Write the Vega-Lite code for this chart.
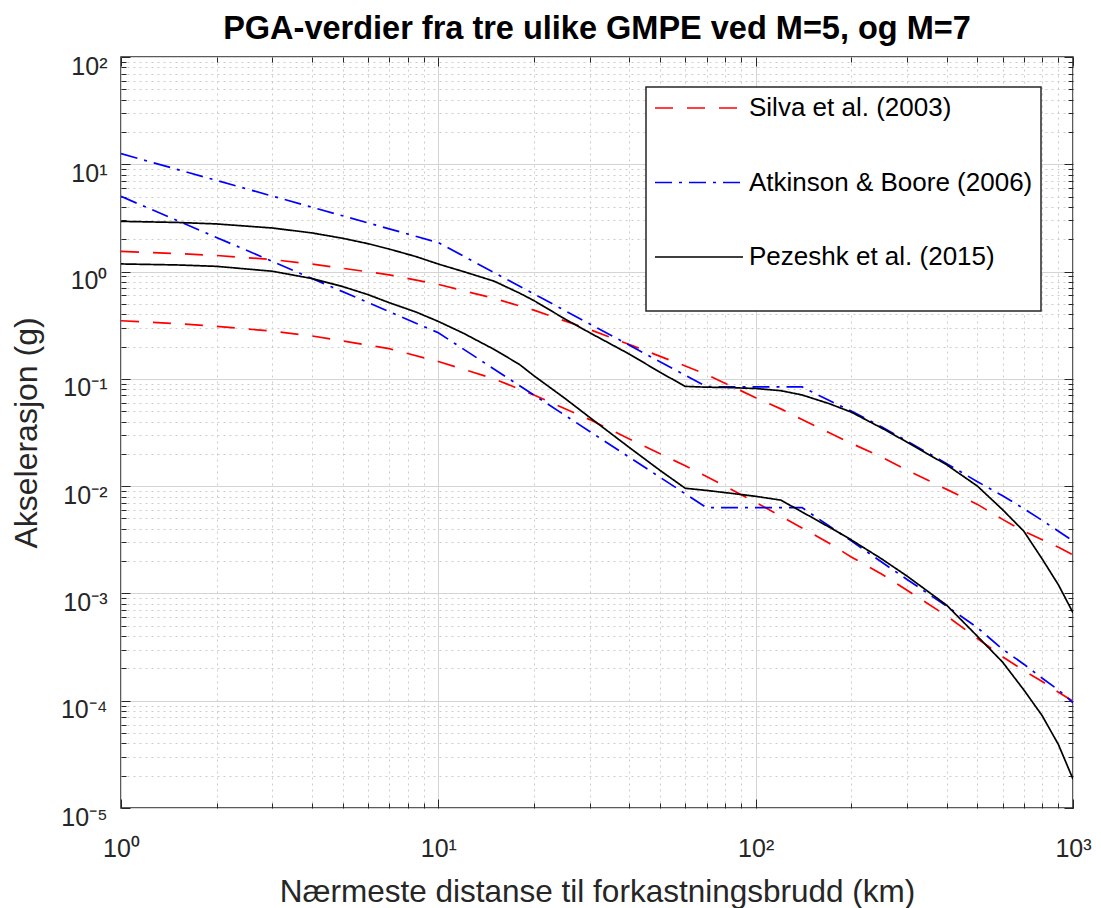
{
  "$schema": "https://vega.github.io/schema/vega-lite/v6.json",
  "autosize": "none",
  "width": 952,
  "height": 751,
  "padding": {"left": 121, "top": 57, "right": 28, "bottom": 100},
  "background": "white",
  "title": {
    "text": "PGA-verdier fra tre ulike GMPE ved M=5, og M=7",
    "font": "Liberation Sans", "fontSize": 32.5, "fontWeight": "bold", "color": "black",
    "anchor": "middle", "frame": "group", "baseline": "alphabetic", "offset": -17
  },
  "config": {
    "view": {"stroke": "#262626", "strokeWidth": 1.5},
    "legend": {
      "orient": "none", "legendX": 525, "legendY": 30,
      "fillColor": "white", "strokeColor": "#262626", "strokeWidth": 1.5,
      "padding": 8, "symbolType": "stroke", "symbolSize": 7744, "symbolStrokeWidth": 1.6,
      "clipHeight": 26, "rowPadding": 48.5,
      "labelFont": "Liberation Sans", "labelFontSize": 26, "labelColor": "black", "labelOffset": 5, "labelLimit": 400,
      "titleOrient": "bottom", "titleFontSize": 24, "titlePadding": 9
    }
  },
  "data": {"values": [
    {"model":"Silva et al. (2003)","M":7,"x":1,"y":1.542},
    {"model":"Silva et al. (2003)","M":7,"x":1.5,"y":1.472},
    {"model":"Silva et al. (2003)","M":7,"x":2,"y":1.413},
    {"model":"Silva et al. (2003)","M":7,"x":3,"y":1.294},
    {"model":"Silva et al. (2003)","M":7,"x":4,"y":1.175},
    {"model":"Silva et al. (2003)","M":7,"x":5,"y":1.072},
    {"model":"Silva et al. (2003)","M":7,"x":7,"y":0.933},
    {"model":"Silva et al. (2003)","M":7,"x":10,"y":0.759},
    {"model":"Silva et al. (2003)","M":7,"x":15,"y":0.562},
    {"model":"Silva et al. (2003)","M":7,"x":20,"y":0.437},
    {"model":"Silva et al. (2003)","M":7,"x":30,"y":0.288},
    {"model":"Silva et al. (2003)","M":7,"x":40,"y":0.209},
    {"model":"Silva et al. (2003)","M":7,"x":50,"y":0.162},
    {"model":"Silva et al. (2003)","M":7,"x":60,"y":0.132},
    {"model":"Silva et al. (2003)","M":7,"x":70,"y":0.110},
    {"model":"Silva et al. (2003)","M":7,"x":80,"y":0.0912},
    {"model":"Silva et al. (2003)","M":7,"x":100,"y":0.0668},
    {"model":"Silva et al. (2003)","M":7,"x":120,"y":0.0525},
    {"model":"Silva et al. (2003)","M":7,"x":140,"y":0.0417},
    {"model":"Silva et al. (2003)","M":7,"x":170,"y":0.0316},
    {"model":"Silva et al. (2003)","M":7,"x":200,"y":0.0251},
    {"model":"Silva et al. (2003)","M":7,"x":250,"y":0.0186},
    {"model":"Silva et al. (2003)","M":7,"x":300,"y":0.0141},
    {"model":"Silva et al. (2003)","M":7,"x":400,"y":0.00933},
    {"model":"Silva et al. (2003)","M":7,"x":500,"y":0.00676},
    {"model":"Silva et al. (2003)","M":7,"x":600,"y":0.0049},
    {"model":"Silva et al. (2003)","M":7,"x":700,"y":0.0038},
    {"model":"Silva et al. (2003)","M":7,"x":800,"y":0.00316},
    {"model":"Silva et al. (2003)","M":7,"x":900,"y":0.00269},
    {"model":"Silva et al. (2003)","M":7,"x":1000,"y":0.00229},
    {"model":"Silva et al. (2003)","M":5,"x":1,"y":0.348},
    {"model":"Silva et al. (2003)","M":5,"x":1.5,"y":0.327},
    {"model":"Silva et al. (2003)","M":5,"x":2,"y":0.309},
    {"model":"Silva et al. (2003)","M":5,"x":3,"y":0.278},
    {"model":"Silva et al. (2003)","M":5,"x":4,"y":0.251},
    {"model":"Silva et al. (2003)","M":5,"x":5,"y":0.226},
    {"model":"Silva et al. (2003)","M":5,"x":7,"y":0.191},
    {"model":"Silva et al. (2003)","M":5,"x":10,"y":0.145},
    {"model":"Silva et al. (2003)","M":5,"x":15,"y":0.1},
    {"model":"Silva et al. (2003)","M":5,"x":20,"y":0.0708},
    {"model":"Silva et al. (2003)","M":5,"x":30,"y":0.0417},
    {"model":"Silva et al. (2003)","M":5,"x":40,"y":0.0275},
    {"model":"Silva et al. (2003)","M":5,"x":50,"y":0.02},
    {"model":"Silva et al. (2003)","M":5,"x":60,"y":0.0155},
    {"model":"Silva et al. (2003)","M":5,"x":70,"y":0.0123},
    {"model":"Silva et al. (2003)","M":5,"x":80,"y":0.01},
    {"model":"Silva et al. (2003)","M":5,"x":100,"y":0.00708},
    {"model":"Silva et al. (2003)","M":5,"x":120,"y":0.00525},
    {"model":"Silva et al. (2003)","M":5,"x":140,"y":0.00407},
    {"model":"Silva et al. (2003)","M":5,"x":170,"y":0.00295},
    {"model":"Silva et al. (2003)","M":5,"x":200,"y":0.00219},
    {"model":"Silva et al. (2003)","M":5,"x":250,"y":0.00151},
    {"model":"Silva et al. (2003)","M":5,"x":300,"y":0.00107},
    {"model":"Silva et al. (2003)","M":5,"x":400,"y":0.000617},
    {"model":"Silva et al. (2003)","M":5,"x":500,"y":0.00038},
    {"model":"Silva et al. (2003)","M":5,"x":600,"y":0.000257},
    {"model":"Silva et al. (2003)","M":5,"x":700,"y":0.000191},
    {"model":"Silva et al. (2003)","M":5,"x":800,"y":0.000151},
    {"model":"Silva et al. (2003)","M":5,"x":900,"y":0.00012},
    {"model":"Silva et al. (2003)","M":5,"x":1000,"y":0.0000989},
    {"model":"Atkinson & Boore (2006)","M":7,"x":1,"y":12.56},
    {"model":"Atkinson & Boore (2006)","M":7,"x":10,"y":1.862},
    {"model":"Atkinson & Boore (2006)","M":7,"x":70,"y":0.0845},
    {"model":"Atkinson & Boore (2006)","M":7,"x":140,"y":0.0841},
    {"model":"Atkinson & Boore (2006)","M":7,"x":170,"y":0.0631},
    {"model":"Atkinson & Boore (2006)","M":7,"x":200,"y":0.0501},
    {"model":"Atkinson & Boore (2006)","M":7,"x":250,"y":0.0355},
    {"model":"Atkinson & Boore (2006)","M":7,"x":300,"y":0.0263},
    {"model":"Atkinson & Boore (2006)","M":7,"x":400,"y":0.0162},
    {"model":"Atkinson & Boore (2006)","M":7,"x":500,"y":0.011},
    {"model":"Atkinson & Boore (2006)","M":7,"x":600,"y":0.00813},
    {"model":"Atkinson & Boore (2006)","M":7,"x":700,"y":0.00617},
    {"model":"Atkinson & Boore (2006)","M":7,"x":800,"y":0.00479},
    {"model":"Atkinson & Boore (2006)","M":7,"x":900,"y":0.0038},
    {"model":"Atkinson & Boore (2006)","M":7,"x":1000,"y":0.00309},
    {"model":"Atkinson & Boore (2006)","M":5,"x":1,"y":5.02},
    {"model":"Atkinson & Boore (2006)","M":5,"x":10,"y":0.269},
    {"model":"Atkinson & Boore (2006)","M":5,"x":70,"y":0.00631},
    {"model":"Atkinson & Boore (2006)","M":5,"x":140,"y":0.00631},
    {"model":"Atkinson & Boore (2006)","M":5,"x":170,"y":0.00427},
    {"model":"Atkinson & Boore (2006)","M":5,"x":200,"y":0.00309},
    {"model":"Atkinson & Boore (2006)","M":5,"x":250,"y":0.00195},
    {"model":"Atkinson & Boore (2006)","M":5,"x":300,"y":0.00135},
    {"model":"Atkinson & Boore (2006)","M":5,"x":400,"y":0.000759},
    {"model":"Atkinson & Boore (2006)","M":5,"x":500,"y":0.000479},
    {"model":"Atkinson & Boore (2006)","M":5,"x":600,"y":0.000302},
    {"model":"Atkinson & Boore (2006)","M":5,"x":700,"y":0.000219},
    {"model":"Atkinson & Boore (2006)","M":5,"x":800,"y":0.000162},
    {"model":"Atkinson & Boore (2006)","M":5,"x":900,"y":0.000126},
    {"model":"Atkinson & Boore (2006)","M":5,"x":1000,"y":0.0000955},
    {"model":"Pezeshk et al. (2015)","M":7,"x":1,"y":2.938},
    {"model":"Pezeshk et al. (2015)","M":7,"x":1.5,"y":2.871},
    {"model":"Pezeshk et al. (2015)","M":7,"x":2,"y":2.78},
    {"model":"Pezeshk et al. (2015)","M":7,"x":3,"y":2.547},
    {"model":"Pezeshk et al. (2015)","M":7,"x":4,"y":2.291},
    {"model":"Pezeshk et al. (2015)","M":7,"x":5,"y":2.042},
    {"model":"Pezeshk et al. (2015)","M":7,"x":6,"y":1.82},
    {"model":"Pezeshk et al. (2015)","M":7,"x":7,"y":1.622},
    {"model":"Pezeshk et al. (2015)","M":7,"x":8.5,"y":1.38},
    {"model":"Pezeshk et al. (2015)","M":7,"x":10,"y":1.175},
    {"model":"Pezeshk et al. (2015)","M":7,"x":12,"y":1.0},
    {"model":"Pezeshk et al. (2015)","M":7,"x":15,"y":0.813},
    {"model":"Pezeshk et al. (2015)","M":7,"x":18,"y":0.631},
    {"model":"Pezeshk et al. (2015)","M":7,"x":20,"y":0.537},
    {"model":"Pezeshk et al. (2015)","M":7,"x":25,"y":0.363},
    {"model":"Pezeshk et al. (2015)","M":7,"x":30,"y":0.269},
    {"model":"Pezeshk et al. (2015)","M":7,"x":40,"y":0.17},
    {"model":"Pezeshk et al. (2015)","M":7,"x":50,"y":0.115},
    {"model":"Pezeshk et al. (2015)","M":7,"x":60,"y":0.0851},
    {"model":"Pezeshk et al. (2015)","M":7,"x":70,"y":0.0836},
    {"model":"Pezeshk et al. (2015)","M":7,"x":80,"y":0.0832},
    {"model":"Pezeshk et al. (2015)","M":7,"x":100,"y":0.0813},
    {"model":"Pezeshk et al. (2015)","M":7,"x":120,"y":0.0776},
    {"model":"Pezeshk et al. (2015)","M":7,"x":140,"y":0.0708},
    {"model":"Pezeshk et al. (2015)","M":7,"x":170,"y":0.0589},
    {"model":"Pezeshk et al. (2015)","M":7,"x":200,"y":0.049},
    {"model":"Pezeshk et al. (2015)","M":7,"x":250,"y":0.0347},
    {"model":"Pezeshk et al. (2015)","M":7,"x":300,"y":0.0257},
    {"model":"Pezeshk et al. (2015)","M":7,"x":400,"y":0.0158},
    {"model":"Pezeshk et al. (2015)","M":7,"x":500,"y":0.01},
    {"model":"Pezeshk et al. (2015)","M":7,"x":600,"y":0.00603},
    {"model":"Pezeshk et al. (2015)","M":7,"x":700,"y":0.0038},
    {"model":"Pezeshk et al. (2015)","M":7,"x":800,"y":0.00209},
    {"model":"Pezeshk et al. (2015)","M":7,"x":900,"y":0.0012},
    {"model":"Pezeshk et al. (2015)","M":7,"x":1000,"y":0.000661},
    {"model":"Pezeshk et al. (2015)","M":5,"x":1,"y":1.178},
    {"model":"Pezeshk et al. (2015)","M":5,"x":1.5,"y":1.153},
    {"model":"Pezeshk et al. (2015)","M":5,"x":2,"y":1.119},
    {"model":"Pezeshk et al. (2015)","M":5,"x":3,"y":1.007},
    {"model":"Pezeshk et al. (2015)","M":5,"x":4,"y":0.861},
    {"model":"Pezeshk et al. (2015)","M":5,"x":5,"y":0.724},
    {"model":"Pezeshk et al. (2015)","M":5,"x":6,"y":0.61},
    {"model":"Pezeshk et al. (2015)","M":5,"x":7,"y":0.513},
    {"model":"Pezeshk et al. (2015)","M":5,"x":8.5,"y":0.42},
    {"model":"Pezeshk et al. (2015)","M":5,"x":10,"y":0.343},
    {"model":"Pezeshk et al. (2015)","M":5,"x":12,"y":0.266},
    {"model":"Pezeshk et al. (2015)","M":5,"x":15,"y":0.188},
    {"model":"Pezeshk et al. (2015)","M":5,"x":18,"y":0.1365},
    {"model":"Pezeshk et al. (2015)","M":5,"x":20,"y":0.107},
    {"model":"Pezeshk et al. (2015)","M":5,"x":25,"y":0.0661},
    {"model":"Pezeshk et al. (2015)","M":5,"x":30,"y":0.0437},
    {"model":"Pezeshk et al. (2015)","M":5,"x":40,"y":0.0229},
    {"model":"Pezeshk et al. (2015)","M":5,"x":50,"y":0.014},
    {"model":"Pezeshk et al. (2015)","M":5,"x":60,"y":0.00955},
    {"model":"Pezeshk et al. (2015)","M":5,"x":70,"y":0.00912},
    {"model":"Pezeshk et al. (2015)","M":5,"x":80,"y":0.00871},
    {"model":"Pezeshk et al. (2015)","M":5,"x":100,"y":0.00804},
    {"model":"Pezeshk et al. (2015)","M":5,"x":120,"y":0.00741},
    {"model":"Pezeshk et al. (2015)","M":5,"x":140,"y":0.00575},
    {"model":"Pezeshk et al. (2015)","M":5,"x":170,"y":0.00417},
    {"model":"Pezeshk et al. (2015)","M":5,"x":200,"y":0.00316},
    {"model":"Pezeshk et al. (2015)","M":5,"x":250,"y":0.00209},
    {"model":"Pezeshk et al. (2015)","M":5,"x":300,"y":0.00145},
    {"model":"Pezeshk et al. (2015)","M":5,"x":400,"y":0.000776},
    {"model":"Pezeshk et al. (2015)","M":5,"x":500,"y":0.000398},
    {"model":"Pezeshk et al. (2015)","M":5,"x":600,"y":0.000229},
    {"model":"Pezeshk et al. (2015)","M":5,"x":700,"y":0.000126},
    {"model":"Pezeshk et al. (2015)","M":5,"x":800,"y":0.0000724},
    {"model":"Pezeshk et al. (2015)","M":5,"x":900,"y":0.0000389},
    {"model":"Pezeshk et al. (2015)","M":5,"x":1000,"y":0.0000186}
  ]},
  "layer": [
    {
      "mark": {"type": "line", "strokeWidth": 1.7, "clip": true},
      "encoding": {
        "x": {
          "field": "x", "type": "quantitative",
          "scale": {"type": "log", "domain": [1, 1000], "nice": false},
          "axis": {
            "orient": "bottom",
            "values": [1,2,3,4,5,6,7,8,9,10,20,30,40,50,60,70,80,90,100,200,300,400,500,600,700,800,900,1000],
            "labelExpr": "datum.value == 1 ? '10⁰' : datum.value == 10 ? '10¹' : datum.value == 100 ? '10²' : datum.value == 1000 ? '10³' : ''",
            "labelFont": "Liberation Sans", "labelFontSize": 25, "labelColor": "#262626",
            "labelPadding": 37, "labelOverlap": false, "labelFlush": false, "labelBaseline": "top",
            "domain": false,
            "tickColor": "#262626", "tickWidth": 1,
            "tickSize": {"condition": {"test": "datum.value == 1 || datum.value == 10 || datum.value == 100 || datum.value == 1000", "value": -9}, "value": -5},
            "grid": true,
            "gridColor": {"condition": {"test": "datum.value == 1 || datum.value == 10 || datum.value == 100 || datum.value == 1000", "value": "#d4d4d4"}, "value": "#cccccc"},
            "gridDash": {"condition": {"test": "datum.value == 1 || datum.value == 10 || datum.value == 100 || datum.value == 1000", "value": []}, "value": [2, 4]},
            "title": "Nærmeste distanse til forkastningsbrudd (km)",
            "titleFont": "Liberation Sans", "titleFontSize": 31.5, "titleFontWeight": "normal", "titleColor": "#262626",
            "titleBaseline": "alphabetic", "titleY": 93
          }
        },
        "y": {
          "field": "y", "type": "quantitative",
          "scale": {"type": "log", "domain": [0.00001, 100], "nice": false},
          "axis": {
            "orient": "left",
            "values": [0.00001,0.00002,0.00003,0.00004,0.00005,0.00006,0.00007,0.00008,0.00009,0.0001,0.0002,0.0003,0.0004,0.0005,0.0006,0.0007,0.0008,0.0009,0.001,0.002,0.003,0.004,0.005,0.006,0.007,0.008,0.009,0.01,0.02,0.03,0.04,0.05,0.06,0.07,0.08,0.09,0.1,0.2,0.3,0.4,0.5,0.6,0.7,0.8,0.9,1,2,3,4,5,6,7,8,9,10,20,30,40,50,60,70,80,90,100],
            "labelExpr": "datum.value == 100 ? '10²' : datum.value == 10 ? '10¹' : datum.value == 1 ? '10⁰' : datum.value == 0.1 ? '10⁻¹' : datum.value == 0.01 ? '10⁻²' : datum.value == 0.001 ? '10⁻³' : datum.value == 0.0001 ? '10⁻⁴' : datum.value == 0.00001 ? '10⁻⁵' : ''",
            "labelFont": "Liberation Sans", "labelFontSize": 25, "labelColor": "#262626",
            "labelPadding": 23, "labelOffset": 9, "labelOverlap": false, "labelFlush": false,
            "domain": false,
            "tickColor": "#262626", "tickWidth": 1,
            "tickSize": {"condition": {"test": "datum.value == 0.00001 || datum.value == 0.0001 || datum.value == 0.001 || datum.value == 0.01 || datum.value == 0.1 || datum.value == 1 || datum.value == 10 || datum.value == 100", "value": -9}, "value": -5},
            "grid": true,
            "gridColor": {"condition": {"test": "datum.value == 0.00001 || datum.value == 0.0001 || datum.value == 0.001 || datum.value == 0.01 || datum.value == 0.1 || datum.value == 1 || datum.value == 10 || datum.value == 100", "value": "#d4d4d4"}, "value": "#cccccc"},
            "gridDash": {"condition": {"test": "datum.value == 0.00001 || datum.value == 0.0001 || datum.value == 0.001 || datum.value == 0.01 || datum.value == 0.1 || datum.value == 1 || datum.value == 10 || datum.value == 100", "value": []}, "value": [2, 4]},
            "title": "Akselerasjon (g)",
            "titleFont": "Liberation Sans", "titleFontSize": 32, "titleFontWeight": "normal", "titleColor": "#262626",
            "titleBaseline": "alphabetic", "titleAlign": "center", "titleAngle": -90, "titleX": -85, "titleY": 375.5
          }
        },
        "color": {
          "field": "model", "type": "nominal",
          "scale": {"domain": ["Silva et al. (2003)", "Atkinson & Boore (2006)", "Pezeshk et al. (2015)"], "range": ["#ff0000", "#0000ff", "#000000"]},
          "legend": {"title": " "}
        },
        "strokeDash": {
          "field": "model", "type": "nominal",
          "scale": {"domain": ["Silva et al. (2003)", "Atkinson & Boore (2006)", "Pezeshk et al. (2015)"], "range": [[18, 14], [17, 7, 3, 7], [1, 0]]},
          "legend": {"title": " "}
        },
        "detail": {"field": "M", "type": "nominal"}
      }
    },
    {
      "mark": {"type": "line", "opacity": 0},
      "encoding": {
        "x": {
          "field": "x", "type": "quantitative",
          "axis": {
            "orient": "top",
            "values": [1,2,3,4,5,6,7,8,9,10,20,30,40,50,60,70,80,90,100,200,300,400,500,600,700,800,900,1000],
            "labels": false, "domain": false, "grid": false, "title": null,
            "tickColor": "#262626", "tickWidth": 1,
            "tickSize": {"condition": {"test": "datum.value == 1 || datum.value == 10 || datum.value == 100 || datum.value == 1000", "value": -9}, "value": -5}
          }
        },
        "y": {
          "field": "y", "type": "quantitative",
          "axis": {
            "orient": "right",
            "values": [0.00001,0.00002,0.00003,0.00004,0.00005,0.00006,0.00007,0.00008,0.00009,0.0001,0.0002,0.0003,0.0004,0.0005,0.0006,0.0007,0.0008,0.0009,0.001,0.002,0.003,0.004,0.005,0.006,0.007,0.008,0.009,0.01,0.02,0.03,0.04,0.05,0.06,0.07,0.08,0.09,0.1,0.2,0.3,0.4,0.5,0.6,0.7,0.8,0.9,1,2,3,4,5,6,7,8,9,10,20,30,40,50,60,70,80,90,100],
            "labels": false, "domain": false, "grid": false, "title": null,
            "tickColor": "#262626", "tickWidth": 1,
            "tickSize": {"condition": {"test": "datum.value == 0.00001 || datum.value == 0.0001 || datum.value == 0.001 || datum.value == 0.01 || datum.value == 0.1 || datum.value == 1 || datum.value == 10 || datum.value == 100", "value": -9}, "value": -5}
          }
        },
        "detail": {"field": "model", "type": "nominal"}
      }
    }
  ],
  "resolve": {"axis": {"x": "independent", "y": "independent"}}
}
